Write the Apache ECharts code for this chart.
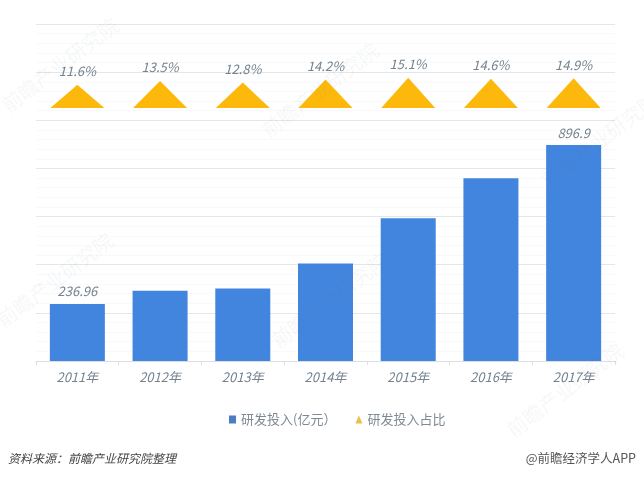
<!DOCTYPE html>
<html>
<head>
<meta charset="utf-8">
<style>
html, body { margin: 0; padding: 0; background: #fff; }
#main { width: 644px; height: 477px; }
</style>
<script src="https://cdn.jsdelivr.net/npm/echarts@6/dist/echarts.min.js"></script>
</head>
<body>
<div id="main"></div>
<script>
// data
let years = ['2011年', '2012年', '2013年', '2014年', '2015年', '2016年', '2017年'];
let investValues = [236.96, 292, 301, 405, 593, 759, 896.9];
let ratioValues = [11.6, 13.5, 12.8, 14.2, 15.1, 14.6, 14.9];
let investLabelled = ['2011年', '2017年'];
let investName = '研发投入(亿元）';
let ratioName = '研发投入占比';
let sourceText = '资料来源：前瞻产业研究院整理';
let creditText = '@前瞻经济学人APP';

let fontFamily = '"Noto Sans CJK SC", sans-serif';
let labelColor = '#74838f';

// faint watermarks behind the chart
let watermarks = [[60, 65], [320, 90], [600, 140], [55, 280], [330, 300], [565, 390]];
let marks = watermarks.map(p => ({
    type: 'text',
    x: p[0],
    y: p[1],
    rotation: 0.65,
    silent: true,
    z: 10,
    style: {
        text: '前瞻产业研究院',
        font: '20px "Noto Sans CJK SC"',
        fill: 'rgba(110,125,140,0.06)',
        textAlign: 'center',
        textVerticalAlign: 'middle'
    }
}));

var chart = echarts.init(document.getElementById('main'));
option = {
    animation: false,
    backgroundColor: '#fff',
    textStyle: { fontFamily: fontFamily },
    grid: { left: 36, right: 29, top: 24, bottom: 116 },
    legend: {
        left: 224,
        top: 408,
        itemWidth: 7,
        itemHeight: 8,
        itemGap: 19,
        textStyle: { color: '#7d8a95', fontSize: 13, fontFamily: fontFamily },
        data: [
            { name: investName, icon: 'rect', itemStyle: { color: '#4a7dc4' } },
            { name: ratioName, icon: 'triangle', itemStyle: { color: '#e8c04a' } }
        ]
    },
    xAxis: {
        type: 'category',
        data: years,
        axisLine: { lineStyle: { color: '#dcdfe2' } },
        axisTick: { show: true, length: 4, lineStyle: { color: '#dcdfe2' } },
        axisLabel: { color: labelColor, fontSize: 13, fontStyle: 'italic', margin: 10 }
    },
    yAxis: [{
        type: 'value',
        min: 0,
        max: 1400,
        interval: 200,
        axisLabel: { show: false },
        axisLine: { show: false },
        axisTick: { show: false },
        splitLine: { lineStyle: { color: '#e4e6e8' } },
        minorTick: { show: false, splitNumber: 5 },
        minorSplitLine: { show: true, lineStyle: { color: '#f8f9fa' } }
    }, {
        // hidden scale for the triangles, 0 sits on the 1050 level of the bars
        type: 'value',
        min: -126.5,
        max: 42,
        show: false,
        splitLine: { show: false }
    }],
    series: [{
        name: investName,
        type: 'bar',
        barWidth: 55,
        itemStyle: { color: '#4285de' },
        data: investValues.map((v, i) => ({
            value: v,
            label: {
                show: investLabelled.indexOf(years[i]) >= 0,
                position: 'top',
                distance: 6,
                color: labelColor,
                fontSize: 13,
                fontStyle: 'italic'
            }
        }))
    }, {
        name: ratioName,
        type: 'pictorialBar',
        yAxisIndex: 1,
        symbol: 'triangle',
        symbolSize: [54, '100%'],
        itemStyle: { color: '#fdb90b' },
        label: {
            show: true,
            position: 'top',
            distance: 7,
            color: labelColor,
            fontSize: 13,
            fontStyle: 'italic',
            formatter: p => p.value + '%'
        },
        data: ratioValues
    }],
    graphic: marks.concat([{
        type: 'text',
        x: 8,
        y: 458,
        style: {
            text: sourceText,
            font: 'italic 12px "Noto Sans CJK SC"',
            fill: '#444',
            textVerticalAlign: 'middle'
        }
    }, {
        type: 'text',
        x: 636,
        y: 458,
        style: {
            text: creditText,
            font: '12.5px "Noto Sans CJK SC"',
            fill: '#555',
            textAlign: 'right',
            textVerticalAlign: 'middle'
        }
    }])
};
chart.setOption(option);
</script>
</body>
</html>
